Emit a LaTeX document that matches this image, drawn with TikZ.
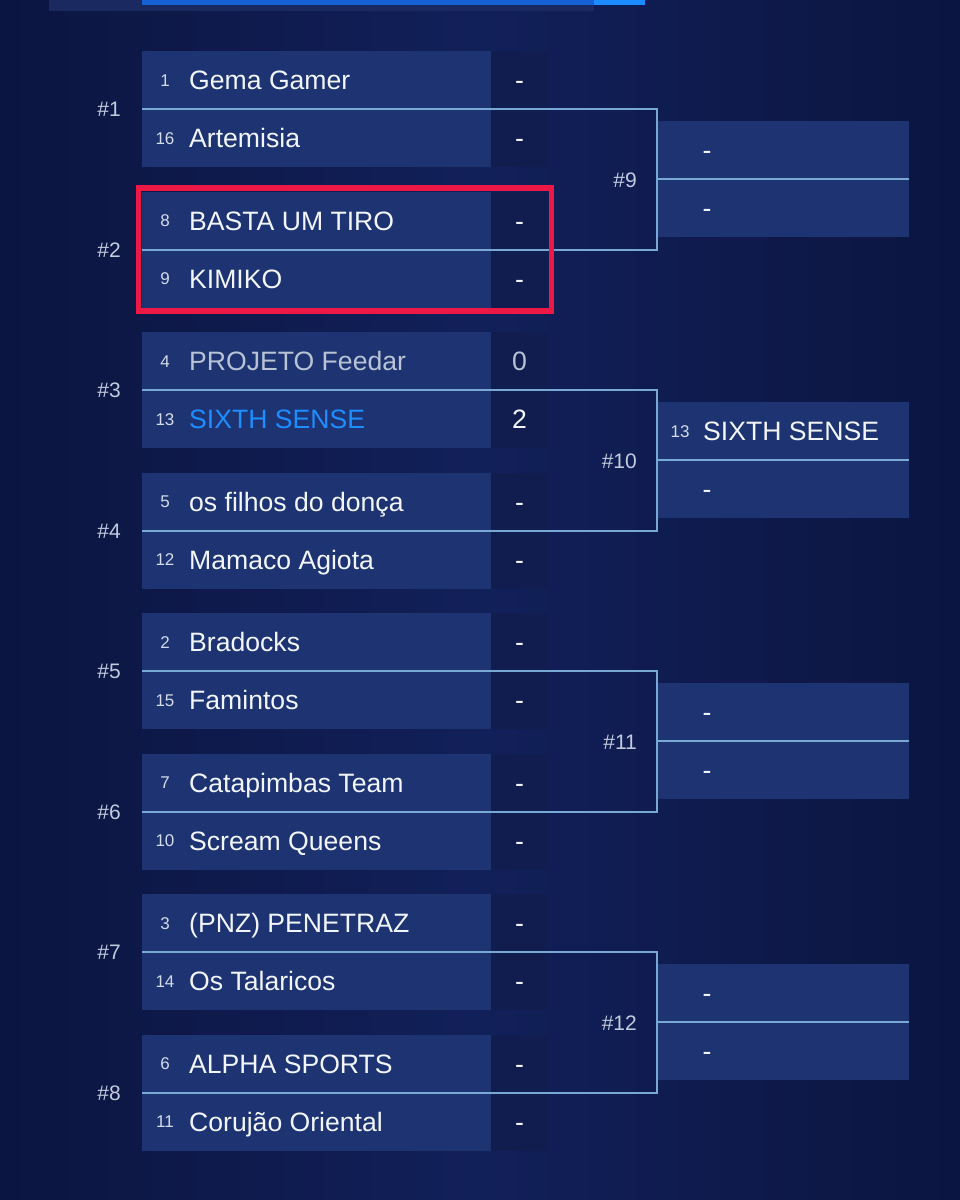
\documentclass[tikz,border=0pt]{standalone}
\usepackage{fontspec}
\setmainfont{Liberation Sans}
\usetikzlibrary{fit}

\definecolor{bgdark}{HTML}{0B1540}
\definecolor{bgmid}{HTML}{12205A}
\definecolor{rowblue}{HTML}{1D3372}
\definecolor{scoredark}{HTML}{111D4E}
\definecolor{linkblue}{HTML}{78A8D4}
\definecolor{labelgrey}{HTML}{C3CBDD}
\definecolor{seedgrey}{HTML}{D5DBE8}
\definecolor{nametext}{HTML}{F2F5FB}
\definecolor{fadetext}{HTML}{B9C3D6}
\definecolor{winblue}{HTML}{1E8EFF}
\definecolor{hlred}{HTML}{EE1846}
\definecolor{barblue}{HTML}{1462D6}
\definecolor{barlight}{HTML}{1A8CFF}
\definecolor{barshade}{HTML}{1A2A60}

\tikzset{
  teambox/.style={fill=rowblue, anchor=north west, minimum width=349pt, minimum height=58pt, inner sep=0pt, outer sep=0pt},
  scorebox/.style={teambox, fill=scoredark, minimum width=57pt},
  nextbox/.style={teambox, minimum width=252pt},
  seed/.style={text=seedgrey, font=\fontsize{17}{19}\selectfont, inner sep=0pt, text height=12pt, text depth=0pt},
  team/.style={text=nametext, font=\fontsize{26.6}{30}\selectfont, anchor=west, inner sep=0pt, text height=19pt, text depth=0pt},
  score/.style={team, anchor=center},
  matchno/.style={text=labelgrey, font=\fontsize{21}{24}\selectfont, anchor=east, inner sep=0pt, text height=15pt, text depth=0pt},
  bracket/.style={draw=linkblue, line width=2pt},
  highlight/.style={draw=hlred, line width=5.5pt, inner sep=3.5pt}
}

\begin{document}
\begin{tikzpicture}[x=1pt, y=-1pt]
% background
\shade[left color=bgdark, right color=bgdark, middle color=bgmid] (0,0) rectangle (960,1200);
\useasboundingbox (0,0) rectangle (960,1200);

% tab bar at the top
\fill[barshade] (49,0) rectangle (594,11);
\fill[barblue] (142,0) rectangle (594,5);
\fill[barlight] (594,0) rectangle (645,5);

% first round
\foreach \k/\sa/\na/\xa/\sb/\nb/\xb [evaluate=\k as \t using 51+(\k-1)*140.5] in {
  1/1/{Gema Gamer}/-/16/{Artemisia}/-,
  2/8/{BASTA UM TIRO}/-/9/{KIMIKO}/-,
  3/4/{\color{fadetext}PROJETO Feedar}/{\color{fadetext}0}/13/{\color{winblue}SIXTH SENSE}/2,
  4/5/{os filhos do donça}/-/12/{Mamaco Agiota}/-,
  5/2/{Bradocks}/-/15/{Famintos}/-,
  6/7/{Catapimbas Team}/-/10/{Scream Queens}/-,
  7/3/{(PNZ) PENETRAZ}/-/14/{Os Talaricos}/-,
  8/6/{ALPHA SPORTS}/-/11/{Corujão Oriental}/-}{
  \node[teambox] (a\k) at (142,\t) {};
  \node[scorebox] (sa\k) at (491,\t) {};
  \node[teambox] (b\k) at (142,\t+58) {};
  \node[scorebox] (sb\k) at (491,\t+58) {};
  \node[seed] at ([xshift=23]a\k.west) {\sa};
  \node[team] at ([xshift=47]a\k.west) {\na};
  \node[score] at (sa\k.center) {\xa};
  \node[seed] at ([xshift=23]b\k.west) {\sb};
  \node[team] at ([xshift=47]b\k.west) {\nb};
  \node[score] at (sb\k.center) {\xb};
  \node[matchno] at ([xshift=-21]a\k.south west) {\#\k};
}

% second round
\foreach \j/\p/\q [evaluate=\p as \t using 51+(\p-1)*140.5+70.25] in {9/1/2, 10/3/4, 11/5/6, 12/7/8}{
  \node[nextbox] (a\j) at (657,\t) {};
  \node[nextbox] (b\j) at (657,\t+58) {};
  \draw[bracket] (a\p.south west) -- (a\p.south west -| a\j.west)
    -- (a\q.south west -| a\j.west) -- (a\q.south west);
  \draw[bracket] (a\j.south west) -- (a\j.south east);
  \node[matchno] at ([xshift=-20,yshift=-1]a\j.south west) {\#\j};
  \node[score] at ([xshift=50]b\j.west) {-};
}
\node[score] at ([xshift=50]a9.west) {-};
\node[seed] at ([xshift=23]a10.west) {13};
\node[team] at ([xshift=46]a10.west) {SIXTH SENSE};
\node[score] at ([xshift=50]a11.west) {-};
\node[score] at ([xshift=50]a12.west) {-};

% highlighted match
\node[highlight, fit=(a2)(sb2)] (pick) {};
\end{tikzpicture}
\end{document}
